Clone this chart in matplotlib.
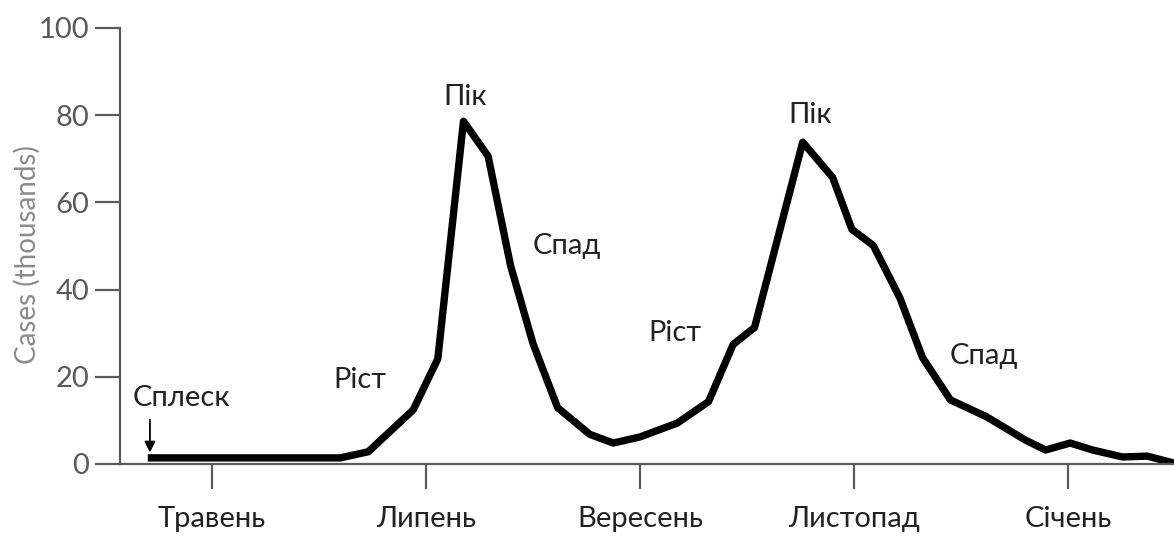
import matplotlib.pyplot as plt

plt.rcParams['font.family'] = ['Lato', 'DejaVu Sans']

# x in months since May (0 = Травень), y in thousands of cases
months = [-0.60, 1.20, 1.46, 1.88, 2.11, 2.35, 2.58, 2.79, 3.00, 3.23, 3.53, 3.75,
          4.00, 4.35, 4.64, 4.87, 5.07, 5.52, 5.80, 5.98, 6.18, 6.43, 6.64, 6.90,
          7.24, 7.60, 7.79, 8.02, 8.23, 8.51, 8.74, 8.99]
cases = [1.4, 1.4, 2.8, 12.4, 24.1, 78.6, 70.6, 45.5, 27.6, 12.9, 6.8, 4.8,
         6.2, 9.4, 14.3, 27.4, 31.3, 73.8, 65.7, 53.8, 50.1, 38.0, 24.4, 14.7,
         10.8, 5.5, 3.2, 4.8, 3.2, 1.6, 1.8, 0.2]

tick_pos = [0, 2, 4, 6, 8]
tick_labels = ['Травень', 'Липень', 'Вересень', 'Листопад', 'Січень']

phase_labels = ['Ріст', 'Пік', 'Спад', 'Ріст', 'Пік', 'Спад']
phase_x = [1.38, 2.37, 3.32, 4.33, 5.59, 7.21]
phase_y = [19.3, 84.1, 49.9, 30.1, 80.0, 24.8]

fig = plt.figure(figsize=(11.74, 5.37), dpi=100)
ax = fig.add_axes([0.1022, 0.136, 0.8978, 0.812])

ax.plot(months, cases, color='black', lw=5.3, solid_joinstyle='round',
        solid_capstyle='butt')

ax.set_xlim(-0.86, 8.99)
ax.set_ylim(0, 100)

grey = '#5a5a5a'
for s in ['top', 'right']:
    ax.spines[s].set_visible(False)
for s in ['left', 'bottom']:
    ax.spines[s].set_color(grey)
    ax.spines[s].set_linewidth(1.6)

ax.set_yticks([0, 20, 40, 60, 80, 100])
ax.set_xticks(tick_pos)
ax.set_xticklabels(tick_labels)
ax.tick_params(axis='both', colors=grey, width=1.6, length=18, labelsize=21)
ax.tick_params(axis='x', labelcolor='#222222', pad=12)
ax.tick_params(axis='y', labelcolor=grey, pad=4)

ax.set_ylabel('Cases (thousands)', color='#8a8a8a', fontsize=20, labelpad=2)
ax.yaxis.set_label_coords(-0.075, 0.48)

# outbreak marker
ax.annotate('', xy=(-0.58, 2.0), xytext=(-0.58, 10.8),
            arrowprops=dict(arrowstyle='-|>', color='black', lw=1.3,
                            mutation_scale=16))
ax.text(-0.29, 15.2, 'Сплеск', ha='center', va='center', fontsize=21,
        color='#222222')

for lab, x, y in zip(phase_labels, phase_x, phase_y):
    ax.text(x, y, lab, ha='center', va='center', fontsize=21, color='#222222')

plt.savefig('out.png', dpi=100)
